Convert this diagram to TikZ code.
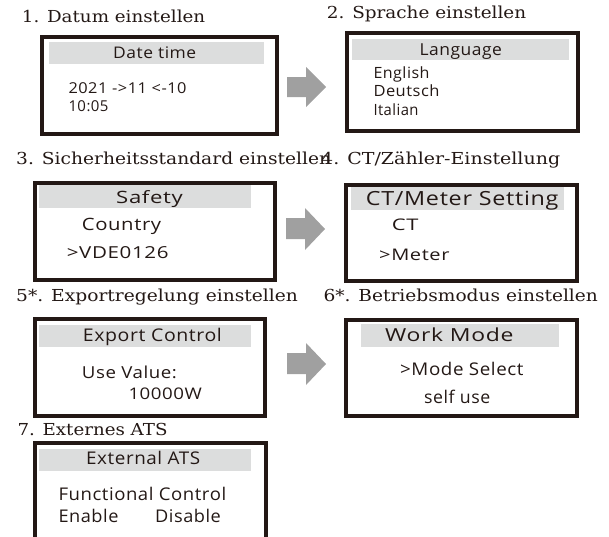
\documentclass[tikz,border=0pt]{standalone}
\usepackage{fontspec}
\usepackage{graphicx}
\newfontfamily\titlefont{DejaVu Serif}
\newfontfamily\scrfont[LetterSpace=3]{Open Sans}
\definecolor{ink}{HTML}{231815}
\definecolor{hdr}{HTML}{DCDDDD}
\definecolor{arr}{HTML}{A0A0A0}
\newcommand\fw[2]{\resizebox{#1pt}{\height}{#2}}
\begin{document}
\begin{tikzpicture}[x=1pt,y=-1pt,
  screen/.style={draw=ink, line width=4pt, anchor=north west, inner sep=0pt},
  header/.style={fill=hdr, anchor=north west, inner sep=0pt},
  ttl/.style={anchor=base west, inner sep=0pt, text=ink, font=\titlefont\fontsize{16.5}{18}\selectfont},
  txt/.style={anchor=base west, inner sep=0pt, text=ink, font=\scrfont\fontsize{#1}{#1}\selectfont},
  txt/.default=15,
  bigarrow/.style={fill=arr}]
\useasboundingbox (0,0) rectangle (609,536);
\clip (0,0) rectangle (609,536);

% titles
\node[ttl] (t1) at (21.7,22.5) {\fw{183.3}{1. Datum einstellen}};
\node[ttl] (t2) at (326.7,18) {\fw{199.3}{2. Sprache einstellen}};
\node[ttl] (t3) at (16,164.5) {\fw{315}{3. Sicherheitsstandard einstellen}};
\node[ttl] (t4) at (321,164.5) {\fw{239}{4. CT/Zähler-Einstellung}};
\node[ttl] (t5) at (16,301.5) {\fw{281.7}{5*. Exportregelung einstellen}};
\node[ttl] (t6) at (323.3,301.5) {\fw{274.4}{6*. Betriebsmodus einstellen}};
\node[ttl] (t7) at (17.3,435.5) {\fw{150}{7. Externes ATS}};

% screens
\node[screen, minimum width=234.4pt, minimum height=97.5pt] (s1) at (40.3,34.5) {};
\node[screen, minimum width=231.1pt, minimum height=97.4pt] (s2) at (344.7,31.3) {};
\node[screen, minimum width=239.6pt, minimum height=97.5pt] (s3) at (33.2,180.5) {};
\node[screen, minimum width=231.5pt, minimum height=96pt] (s4) at (343.8,182.8) {};
\node[screen, minimum width=229.8pt, minimum height=96.6pt] (s5) at (33.2,317.2) {};
\node[screen, minimum width=231pt, minimum height=96.2pt] (s6) at (343.7,317.8) {};
\node[screen, minimum width=230.3pt, minimum height=107pt] (s7) at (33.2,441.2) {};

% headers
\node[header, minimum width=215.7pt, minimum height=21.6pt] (h1) at (48.3,41.7) {};
\node[header, minimum width=216.6pt, minimum height=21.7pt] (h2) at (351.7,38.3) {};
\node[header, minimum width=211.7pt, minimum height=23.4pt] (h3) at (39,184.3) {};
\node[header, minimum width=212.6pt, minimum height=23.3pt] (h4) at (350.7,186.7) {};
\node[header, minimum width=211.7pt, minimum height=22.4pt] (h5) at (39,324.3) {};
\node[header, minimum width=197.3pt, minimum height=23.4pt] (h6) at (361,323.3) {};
\node[header, minimum width=211.7pt, minimum height=22.4pt] (h7) at (39,448.3) {};

% panel 1
\node[txt=16] (d1) at (113,58.3) {\fw{83}{Date time}};
\node[txt=15] (d2) at (68.3,93.3) {\fw{118}{2021 ->11 <-10}};
\node[txt=15] (d3) at (68.3,111.7) {\fw{40}{10:05}};
% panel 2
\node[txt=16.5] (l1) at (419.3,55) {\fw{82.4}{Language}};
\node[txt=15.5] (l2) at (373.3,78.3) {\fw{56}{English}};
\node[txt=15.5] (l3) at (373.3,96.7) {\fw{66}{Deutsch}};
\node[txt=15.5] (l4) at (373.3,115) {\fw{45}{Italian}};
% panel 3
\node[txt=17] (c1) at (116,203.3) {\fw{66.7}{Safety}};
\node[txt=17] (c2) at (81.7,230.7) {\fw{79.3}{Country}};
\node[txt=16.5] (c3) at (66.7,258.3) {\fw{101.6}{>VDE0126}};
% panel 4
\node[txt=19.5] (m1) at (365.7,205) {\fw{192.6}{CT/Meter Setting}};
\node[txt=16] (m2) at (391.7,230.7) {\fw{26.6}{CT}};
\node[txt=16] (m3) at (379,260.7) {\fw{70.3}{>Meter}};
% panel 5
\node[txt=17.5] (e1) at (82.7,341) {\fw{139}{Export Control}};
\node[txt=16.5] (e2) at (81.7,378.3) {\fw{95}{Use Value:}};
\node[txt=16] (e3) at (128.3,399) {\fw{73.4}{10000W}};
% panel 6
\node[txt=18] (w1) at (385,341.7) {\fw{128.3}{Work Mode}};
\node[txt=17.5] (w2) at (400,375) {\fw{123.3}{>Mode Select}};
\node[txt=17.5] (w3) at (424,403.3) {\fw{66}{self use}};
% panel 7
\node[txt=17.5] (x1) at (86,464) {\fw{114}{External ATS}};
\node[txt=17.5] (x2) at (58.3,500.7) {\fw{167.7}{Functional Control}};
\node[txt=17.5] (x3) at (58.3,522.7) {\fw{60}{Enable}};
\node[txt=17.5] (x4) at (155,522.7) {\fw{65.7}{Disable}};

% arrows
\fill[bigarrow] (287,77) -- (306,77) -- (306,67) -- (326,87) -- (306,107) -- (306,97) -- (287,97) -- cycle;
\fill[bigarrow] (286,218) -- (305,218) -- (305,208) -- (325,229) -- (305,250) -- (305,239) -- (286,239) -- cycle;
\fill[bigarrow] (287,353) -- (306,353) -- (306,343) -- (326,364) -- (306,385) -- (306,374) -- (287,374) -- cycle;
\end{tikzpicture}
\end{document}
